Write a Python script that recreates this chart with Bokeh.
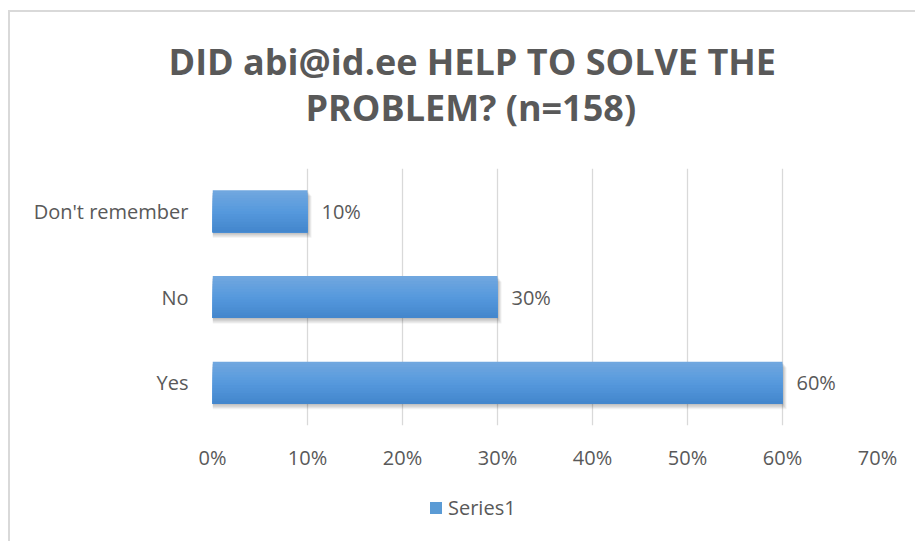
from bokeh.plotting import figure
from bokeh.layouts import column
from bokeh.models import (FactorRange, Range1d, ColumnDataSource, LabelSet, Title,
                          Legend, LegendItem, NumeralTickFormatter, FixedTicker)
from bokeh.core.properties import value
from bokeh.transform import dodge
from bokeh.embed import file_html
from bokeh.resources import INLINE

# Survey answers (bottom to top) and their shares
categories = ["Yes", "No", "Don't remember"]
shares = [0.60, 0.30, 0.10]
x_ticks = [0.0, 0.1, 0.2, 0.3, 0.4, 0.5, 0.6, 0.7]
title_lines = ["DID abi@id.ee HELP TO SOLVE THE", "PROBLEM? (n=158)"]
series_name = "Series1"

FONT = "Open Sans"
TEXT = "#595959"
GRID = "#d9d9d9"
SERIES_COLOR = "#5b9bd5"

W = 905
MAIN_H = 463
LEGEND_H = 66

p = figure(width=W, height=MAIN_H, frame_width=665, frame_height=257,
           output_backend="svg", toolbar_location=None,
           y_range=FactorRange(*categories, range_padding=0),
           x_range=Range1d(0, 0.7),
           min_border_left=202, min_border_right=38,
           min_border_top=156, min_border_bottom=50)
p.outline_line_color = None

src = ColumnDataSource(dict(cat=categories, val=shares,
                            lbl=[f"{v:.0%}" for v in shares]))

BAR_H = 0.49
px_y = 1 / 85.7      # one pixel in category units
px_x = 0.7 / 665.0   # one pixel in value units

# soft drop shadow under each bar
for k in range(1, 6):
    sh = ColumnDataSource(dict(cat=categories, r=[v + k * 0.8 * px_x for v in shares]))
    p.hbar(y=dodge("cat", -k * 1.1 * px_y, range=p.y_range), left=0, right="r",
           height=BAR_H, source=sh, fill_color="black", fill_alpha=0.055,
           line_color=None)

# vertical gradient for the bars: overlapping bands, each running from its
# own top edge down to the bar's bottom, drawn top band first
stops = [(0.0, (112, 167, 223)), (0.5, (86, 153, 221)), (1.0, (68, 135, 205))]
def grad(f_pos):
    for (t0, c0), (t1, c1) in zip(stops[:-1], stops[1:]):
        if f_pos <= t1:
            f = (f_pos - t0) / (t1 - t0)
            return "#%02x%02x%02x" % tuple(round(a + (b - a) * f) for a, b in zip(c0, c1))
    return "#%02x%02x%02x" % stops[-1][1]

N = 16
strip_h = BAR_H / N
for i in range(N):
    band_h = BAR_H - i * strip_h
    off = -BAR_H / 2 + band_h / 2
    p.hbar(y=dodge("cat", off, range=p.y_range), left=0, right="val",
           height=band_h, source=src, fill_color=grad(i / (N - 1)),
           line_color=None)

labels = LabelSet(x="val", y="cat", text="lbl", source=src, x_offset=14,
                  text_baseline="middle", text_align="left",
                  text_font=value(FONT), text_font_size=value("20px"),
                  text_color=TEXT)
p.add_layout(labels)

# axes
p.xaxis.ticker = FixedTicker(ticks=x_ticks)
p.xaxis.formatter = NumeralTickFormatter(format="0%")
for ax in (p.xaxis[0], p.yaxis[0]):
    ax.axis_line_color = None
    ax.major_tick_line_color = None
    ax.minor_tick_line_color = None
    ax.major_label_text_font = FONT
    ax.major_label_text_font_size = "20px"
    ax.major_label_text_color = TEXT
p.xaxis.major_label_standoff = 12
p.yaxis.major_label_standoff = 18

p.xgrid.grid_line_color = GRID
p.xgrid.grid_line_width = 1.3
p.ygrid.grid_line_color = None

# gap between the plot area and the title block
p.add_layout(Title(text=" ", standoff=9, text_font=FONT,
                   text_font_size="20px"), "above")
# two-line title (the lower line goes in first, closest to the plot)
for line, off in [(title_lines[1], 93), (title_lines[0], -44)]:
    p.add_layout(Title(text=line, align="left", offset=off, standoff=-5,
                       vertical_align="middle",
                       text_font=FONT, text_font_style="bold",
                       text_font_size="36px", text_color=TEXT), "above")

# legend strip under the chart, sharing the plot area's horizontal extent
lg = figure(width=W, height=LEGEND_H, output_backend="svg", toolbar_location=None,
            x_range=Range1d(0, 1), y_range=Range1d(0, 1),
            x_axis_location=None, y_axis_location=None,
            min_border_left=202, min_border_right=38,
            min_border_top=0, min_border_bottom=0)
lg.outline_line_color = None
lg.grid.grid_line_color = None
# swatch glyph for the legend entry; its one bar sits below the strip's visible range
swatch = lg.hbar(y=[-5], left=[0], right=[0.5], height=0.5,
                 fill_color=SERIES_COLOR, line_color=None)

legend = Legend(items=[LegendItem(label=series_name, renderers=[swatch])],
                location=(216, 20), orientation="horizontal",
                glyph_width=15, glyph_height=15, label_standoff=5,
                padding=0, margin=0,
                border_line_color=None, background_fill_alpha=0,
                label_text_font=FONT, label_text_font_size="20px",
                label_text_color=TEXT)
lg.add_layout(legend)

page = column(p, lg, spacing=0)
page.styles = {"margin-left": "8px", "margin-top": "10px",
               "border-left": "2px solid #d9d9d9", "border-top": "2px solid #d9d9d9"}

open("out.html", "w").write(file_html(page, INLINE))
